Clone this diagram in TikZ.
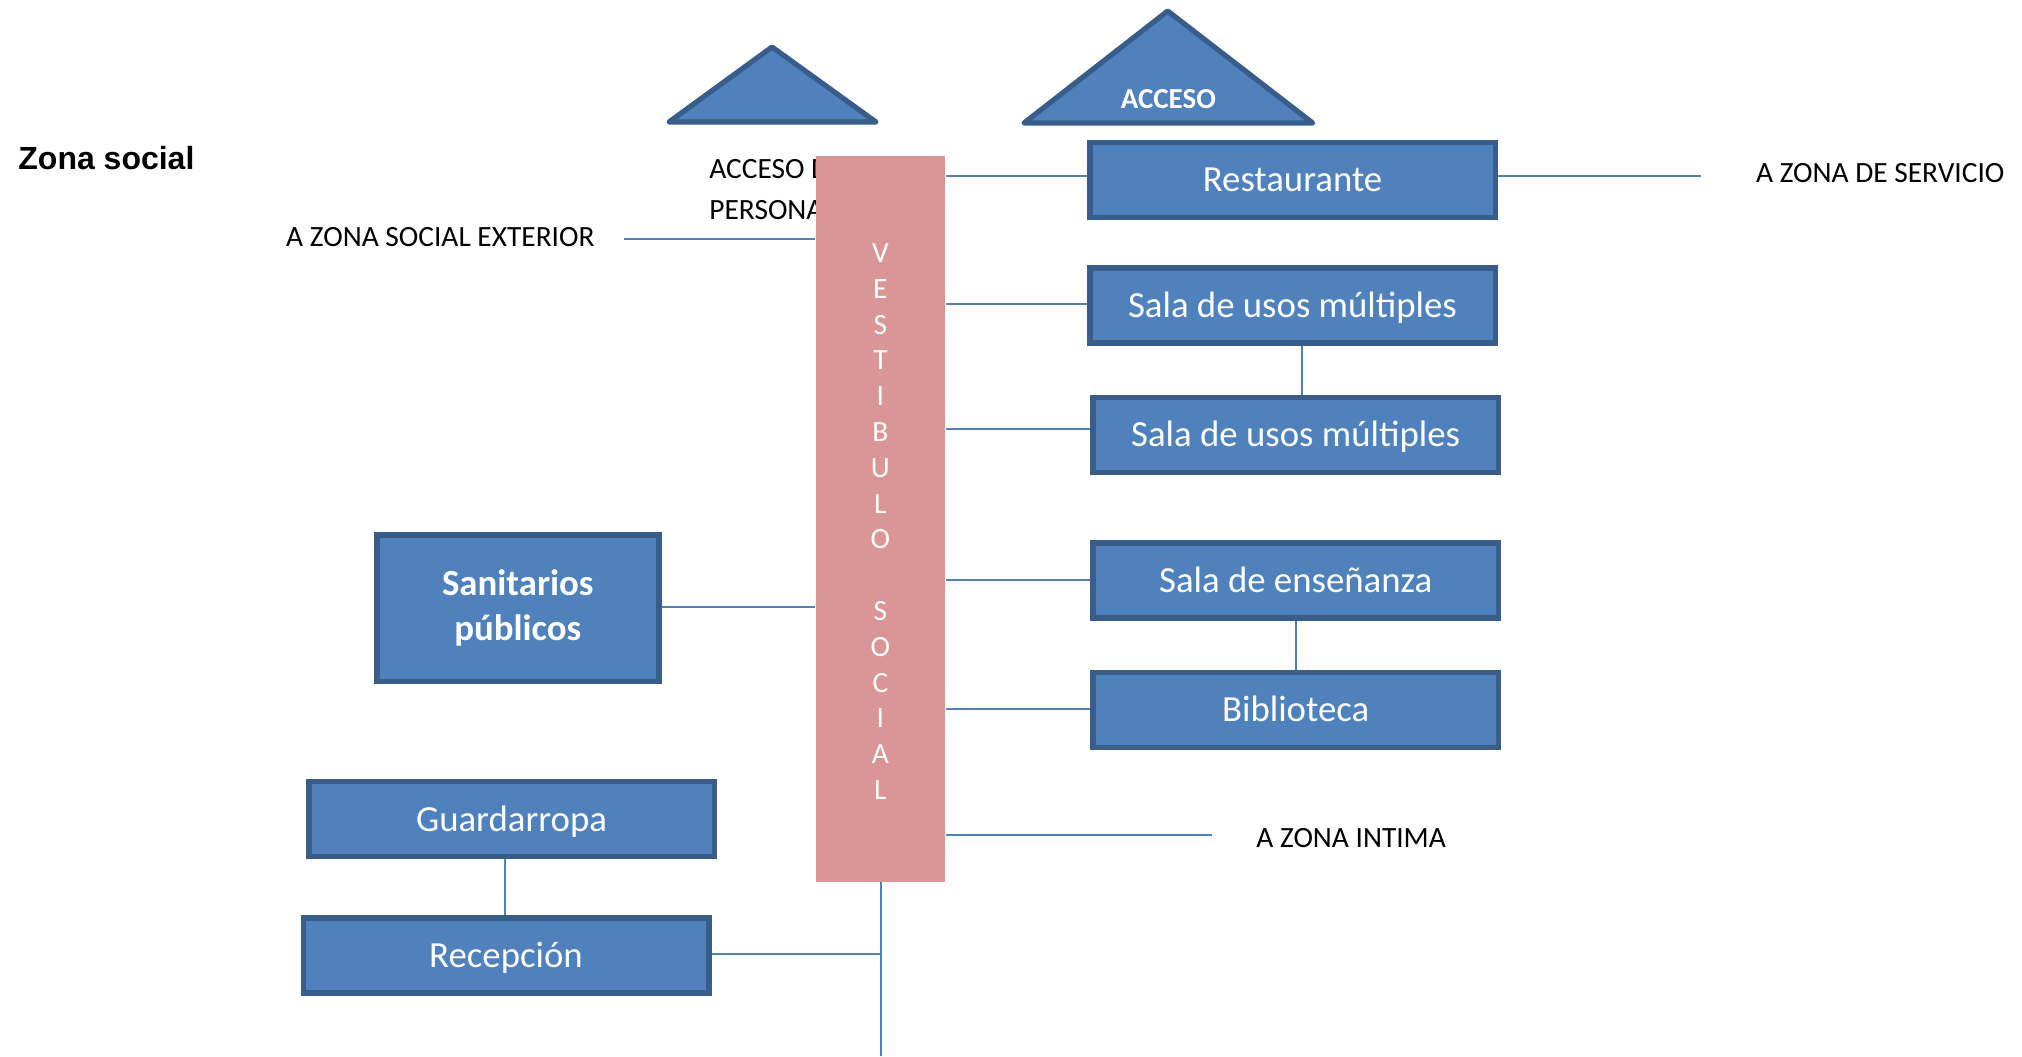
\documentclass[tikz,border=0pt]{standalone}
\usepackage{fontspec}
\setmainfont{Carlito}
\newfontfamily\arialfont{Liberation Sans}
\definecolor{boxfill}{HTML}{4F81BD}
\definecolor{boxline}{HTML}{385D8A}
\definecolor{vestfill}{HTML}{D99694}
\definecolor{connline}{HTML}{4F81BD}
\begin{document}
\begin{tikzpicture}[x=0.5pt,y=-0.5pt,
  basebox/.style={rectangle, draw=boxline, fill=boxfill, line width=2.75pt, inner sep=0pt,
    minimum width=202.75pt, minimum height=37.5pt, text=white, font=\fontsize{18.4}{22.4}\selectfont},
  roombox/.style={basebox, text height=11.85pt, text depth=0pt},
  conn/.style={draw=connline, line width=1pt},
  lbl/.style={inner sep=0pt, font=\fontsize{14.7}{17.9}\selectfont, text=black},
  accesstri/.style={draw=boxline, fill=boxfill, line width=2.6pt, line join=round}]
\useasboundingbox (0,0) rectangle (2022,1056);

% title
\node[inner sep=0pt, anchor=west, font=\arialfont\bfseries\fontsize{16}{19}\selectfont] (zona) at (18,158) {Zona social};

% access triangles
\draw[accesstri] (669,122) -- (772,47) -- (876,122) -- cycle;
\draw[accesstri] (1024,123) -- (1167.7,11) -- (1312.7,123) -- cycle;
\node[inner sep=0pt, text=white, font=\bfseries\fontsize{14.5}{17.7}\selectfont] (acc) at (1168.3,98.7) {ACCESO};

% text partly hidden by the vestibule
\node[lbl, anchor=west, align=left, font=\fontsize{14.7}{20.7}\selectfont] (accper) at (709,189.75) {ACCESO DE\\PERSONAL};

% vestibule
\node[rectangle, fill=vestfill, inner sep=0pt, minimum width=64.8pt, minimum height=362.8pt] (vest) at (880.4,518.7) {};
\node[inner sep=0pt, text=white, align=center, font=\fontsize{14.7}{17.9}\selectfont] (vtext) at (880.4,521.5)
  {V\\E\\S\\T\\I\\B\\U\\L\\O\\~\\S\\O\\C\\I\\A\\L};

% rooms
\node[roombox] (rest) at (1292.5,179.8) {Restaurante};
\node[roombox] (sala1) at (1292.5,305.55) {Sala de usos múltiples};
\node[roombox] (sala2) at (1295.65,435) {Sala de usos múltiples};
\node[roombox] (ens) at (1295.65,580.7) {Sala de enseñanza};
\node[roombox] (bib) at (1295.65,709.8) {Biblioteca};
\node[basebox, minimum width=141pt, minimum height=73.25pt, align=center,
  font=\bfseries\fontsize{18.4}{22.4}\selectfont] (san) at (517.75,608) {Sanitarios\\públicos};
\node[roombox] (guar) at (511.5,819.2) {Guardarropa};
\node[roombox] (rec) at (506,955.25) {Recepción};

% labels
\node[lbl, anchor=east] (ext) at (595,237) {A ZONA SOCIAL EXTERIOR};
\node[lbl, anchor=west] (serv) at (1755.7,173.4) {A ZONA DE SERVICIO};
\node[lbl, anchor=west] (int) at (1256,837.8) {A ZONA INTIMA};
\coordinate (extend) at (624,239);
\coordinate (servend) at (1701,175.8);
\coordinate (intend) at (1212,834.7);
\coordinate (bot) at (881.4,1056);

% connectors
\draw[conn] (extend) -- (extend -| vest.west);
\draw[conn] ([yshift=2pt]rest.east) -- (servend);
\draw[conn] ([yshift=2pt]rest.west) -- ([yshift=2pt]rest.west -| vest.east);
\draw[conn] ([yshift=0.9pt]sala1.west) -- ([yshift=0.9pt]sala1.west -| vest.east);
\draw[conn] ([yshift=2.85pt]sala2.west) -- ([yshift=2.85pt]sala2.west -| vest.east);
\draw[conn] ([yshift=0.6pt]ens.west) -- ([yshift=0.6pt]ens.west -| vest.east);
\draw[conn] ([yshift=0.5pt]bib.west) -- ([yshift=0.5pt]bib.west -| vest.east);
\draw[conn] (intend -| vest.east) -- (intend);
\draw[conn] ([xshift=4.95pt]sala1.south) -- ([xshift=4.95pt]sala1.south |- sala2.north);
\draw[conn] (ens.south) -- (ens.south |- bib.north);
\draw[conn] ([xshift=-0.6pt]rec.north |- guar.south) -- ([xshift=-0.6pt]rec.north);
\draw[conn] ([yshift=0.5pt]san.east) -- ([yshift=0.5pt]san.east -| vest.west);
\draw[conn] (vest.south -| bot) -- (bot);
\draw[conn] ([yshift=0.6pt]rec.east) -- ([yshift=0.6pt]rec.east -| bot);
\end{tikzpicture}
\end{document}
